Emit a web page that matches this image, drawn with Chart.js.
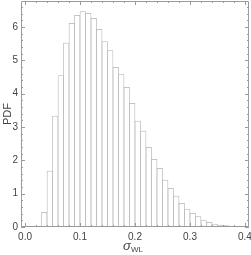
<!DOCTYPE html>
<html>
<head>
<meta charset="utf-8">
<script src="https://cdn.jsdelivr.net/npm/chart.js@4.4.1/dist/chart.umd.min.js"></script>
<style>
html, body { margin: 0; padding: 0; background: #fff; }
</style>
</head>
<body>
<canvas id="myChart" width="251" height="255"></canvas>
<script>
// histogram bins (left edges) and PDF heights
const binLeft = [0.02, 0.03, 0.04, 0.05, 0.06, 0.07, 0.08, 0.09, 0.10, 0.11,
                 0.12, 0.13, 0.14, 0.15, 0.16, 0.17, 0.18, 0.19, 0.20, 0.21,
                 0.22, 0.23, 0.24, 0.25, 0.26, 0.27, 0.28, 0.29, 0.30, 0.31,
                 0.32, 0.33, 0.34, 0.35, 0.36, 0.37, 0.38];
const pdf = [0.03, 0.44, 1.68, 3.33, 4.54, 5.52, 6.11, 6.35, 6.46, 6.41,
             6.26, 5.93, 5.56, 5.29, 4.79, 4.57, 4.19, 3.71, 3.18, 2.88,
             2.39, 2.03, 1.76, 1.41, 1.16, 0.93, 0.71, 0.54, 0.41, 0.31,
             0.19, 0.14, 0.09, 0.06, 0.04, 0.03, 0.02];
const binWidth = 0.01;
const xTicks = ['0.0', '0.1', '0.2', '0.3', '0.4'];
const yTicks = ['0', '1', '2', '3', '4', '5', '6'];

const frameColor = '#9a9a9a';
const textColor = '#444';

// Mathematica-like frame with inward ticks, plus axis labels
const framePlugin = {
    id: 'frame',
    afterDatasetsDraw(chart) {
        const {ctx, chartArea: a, scales: {x, y}} = chart;
        ctx.save();
        ctx.strokeStyle = frameColor;
        ctx.lineWidth = 1;
        ctx.beginPath();
        ctx.rect(a.left + 0.5, a.top + 0.5, a.right - a.left - 1, a.bottom - a.top - 1);
        // x ticks, major every 0.1, minor every 0.02
        for (let i = 0; i <= 20; i++) {
            const px = Math.round(x.getPixelForValue(i * 0.02)) + 0.5;
            const len = i % 5 === 0 ? 4 : 2;
            ctx.moveTo(px, a.bottom);
            ctx.lineTo(px, a.bottom - len);
            ctx.moveTo(px, a.top);
            ctx.lineTo(px, a.top + len);
        }
        // y ticks, major every 1, minor every 0.2
        for (let i = 0; i <= 33; i++) {
            const py = Math.round(y.getPixelForValue(i * 0.2)) + 0.5;
            const len = i % 5 === 0 ? 4 : 2;
            ctx.moveTo(a.left, py);
            ctx.lineTo(a.left + len, py);
            ctx.moveTo(a.right, py);
            ctx.lineTo(a.right - len, py);
        }
        ctx.stroke();
        ctx.restore();
    },
    afterDraw(chart) {
        const {ctx, chartArea: a} = chart;
        ctx.save();
        ctx.fillStyle = textColor;
        // y-axis title
        ctx.translate(8, (a.top + a.bottom) / 2);
        ctx.rotate(-Math.PI / 2);
        ctx.font = '11px "Liberation Sans", Arial, sans-serif';
        ctx.textAlign = 'center';
        ctx.textBaseline = 'middle';
        ctx.fillText('PDF', 0, 0);
        ctx.restore();
        // x-axis title: sigma with subscript WL
        ctx.save();
        ctx.fillStyle = textColor;
        ctx.textBaseline = 'alphabetic';
        ctx.font = 'italic 13px "Liberation Sans", Arial, sans-serif';
        const w1 = ctx.measureText('σ').width;
        ctx.font = '8px "Liberation Sans", Arial, sans-serif';
        const w2 = ctx.measureText('WL').width;
        const x0 = (a.left + a.right) / 2 - 2 - (w1 + w2) / 2;
        ctx.font = 'italic 13px "Liberation Sans", Arial, sans-serif';
        ctx.fillText('σ', x0, 250);
        ctx.font = '8px "Liberation Sans", Arial, sans-serif';
        ctx.fillText('WL', x0 + w1, 252);
        ctx.restore();
    }
};

const data = {
    datasets: [{
        label: 'PDF',
        data: binLeft.map((b, i) => ({x: b + binWidth / 2, y: pdf[i]})),
        backgroundColor: '#ffffff',
        borderColor: '#b2b2b2',
        borderWidth: 0.75,
        borderSkipped: false,
        barPercentage: 1,
        categoryPercentage: 1
    }]
};

const config = {
    type: 'bar',
    data,
    options: {
        responsive: false,
        animation: false,
        devicePixelRatio: 1,
        layout: {padding: {left: 0, right: 2, top: 1, bottom: 0}},
        plugins: {
            legend: {display: false},
            tooltip: {enabled: false}
        },
        scales: {
            x: {
                type: 'linear',
                offset: false,
                min: -0.0073,
                max: 0.4073,
                grid: {display: false, drawTicks: false},
                border: {display: false},
                afterFit: (s) => {
                    s.height = 28;
                    s.paddingLeft = 0;
                    s.paddingRight = 0;
                },
                ticks: {
                    stepSize: 0.1,
                    includeBounds: false,
                    padding: 4,
                    color: textColor,
                    font: {family: '"Liberation Sans", Arial, sans-serif', size: 10},
                    maxRotation: 0,
                    autoSkip: false,
                    callback: (v) => {
                        const k = Math.round(v * 10);
                        return Math.abs(v * 10 - k) < 1e-6 ? xTicks[k] : '';
                    }
                }
            },
            y: {
                min: 0,
                max: 6.78,
                grid: {display: false, drawTicks: false},
                border: {display: false},
                afterFit: (s) => {
                    s.width = 21;
                    s.paddingTop = 0;
                    s.paddingBottom = 0;
                },
                ticks: {
                    stepSize: 1,
                    includeBounds: false,
                    padding: 3,
                    color: textColor,
                    font: {family: '"Liberation Sans", Arial, sans-serif', size: 10},
                    callback: (v) => Number.isInteger(v) ? yTicks[v] : ''
                }
            }
        }
    },
    plugins: [framePlugin]
};

const myChart = new Chart(
    document.getElementById('myChart'),
    config
);
</script>
</body>
</html>
